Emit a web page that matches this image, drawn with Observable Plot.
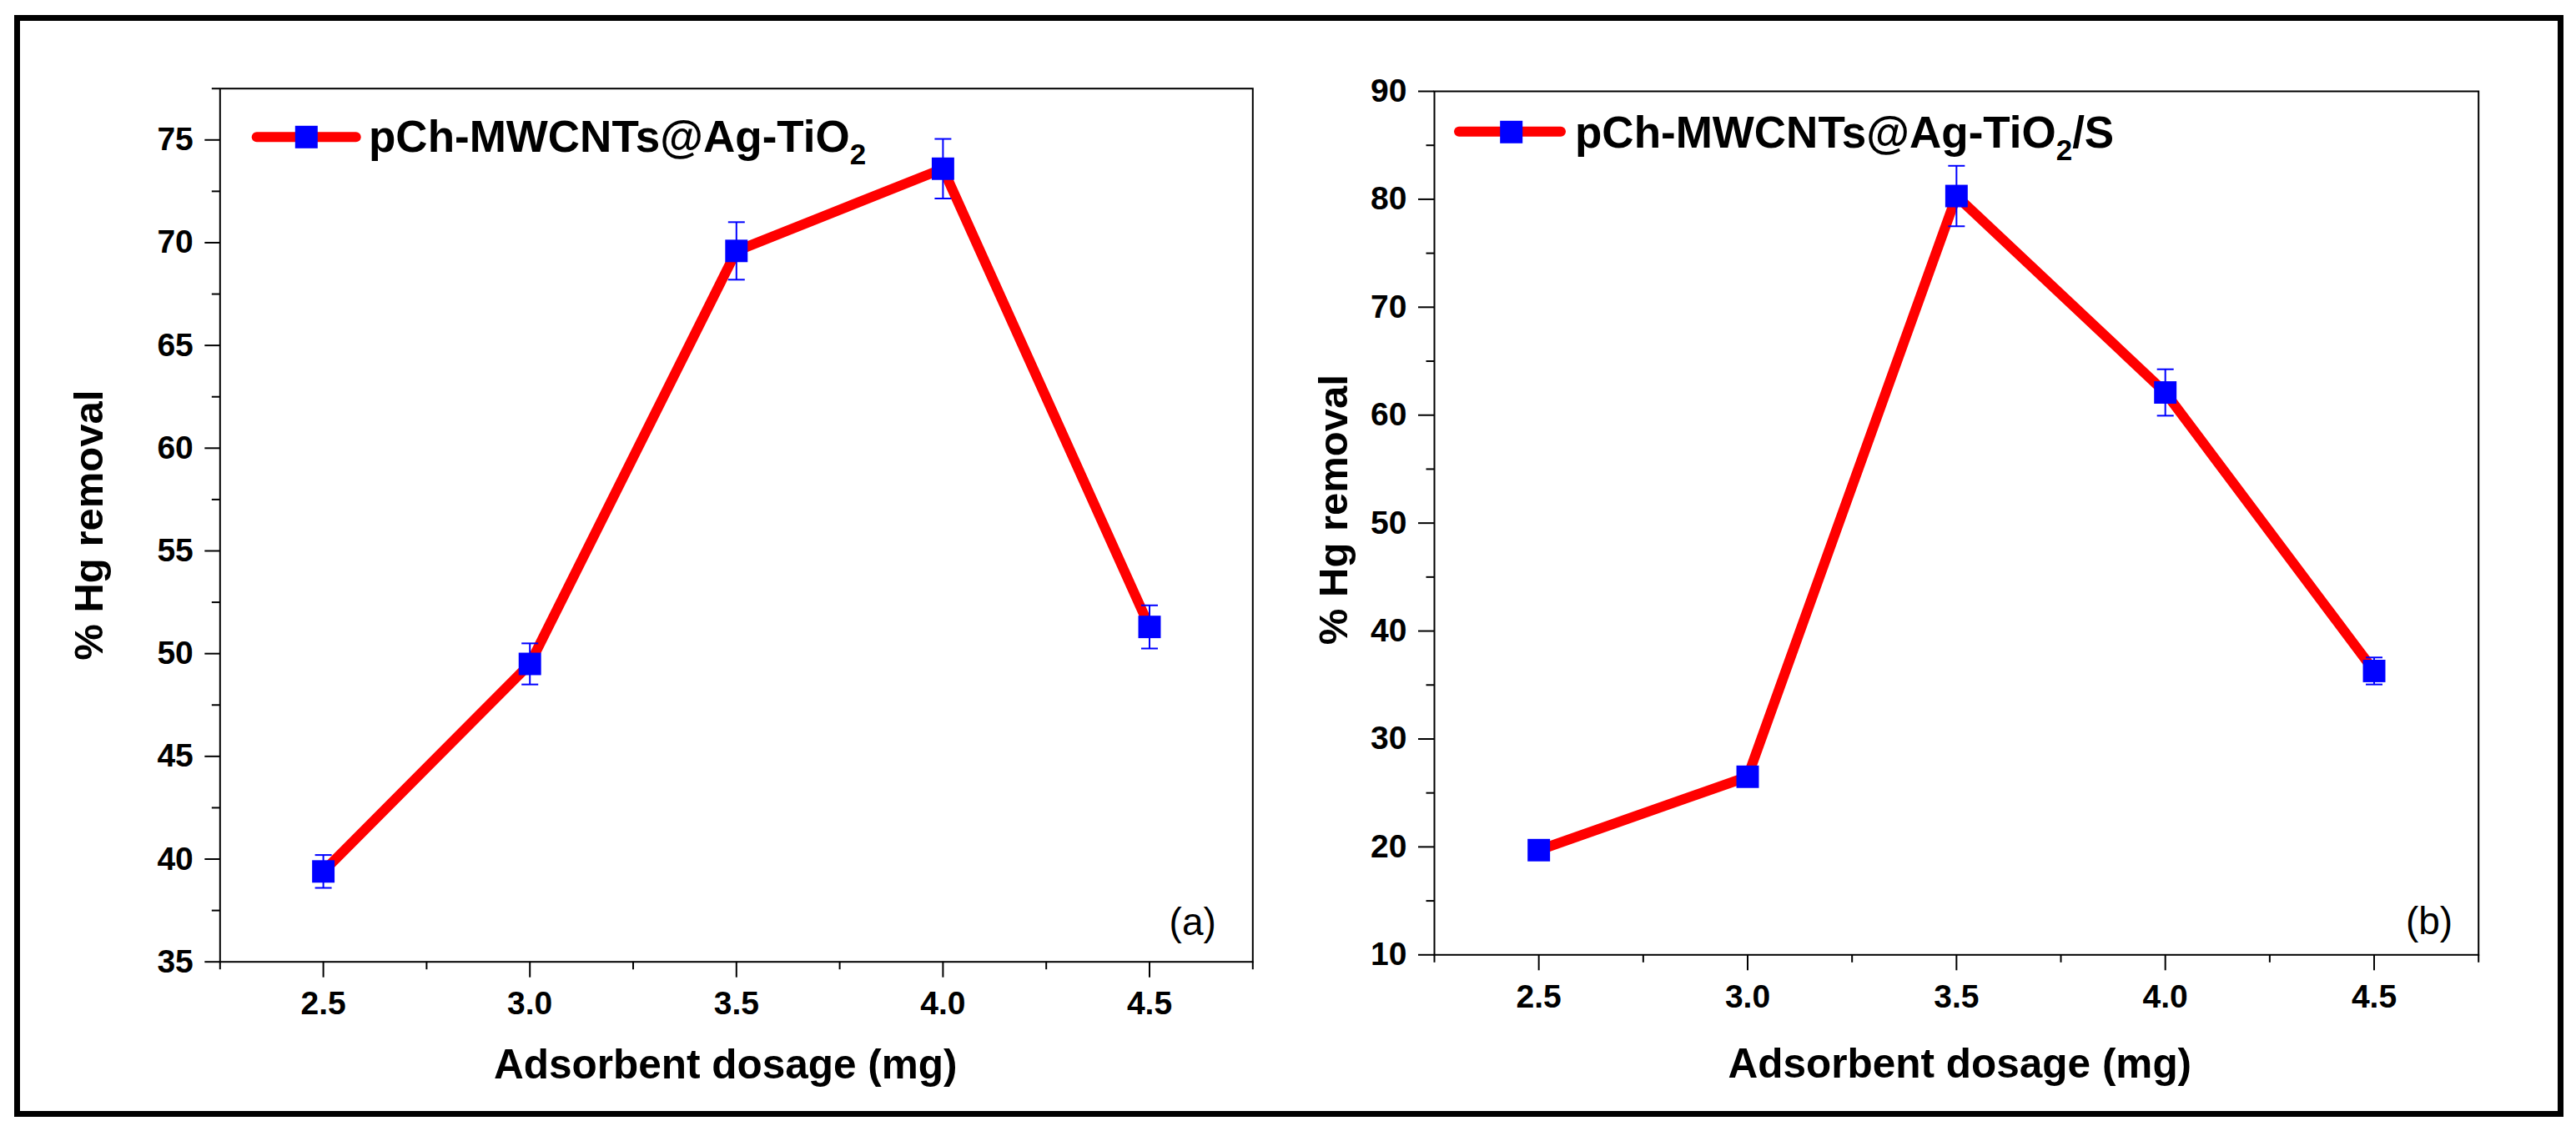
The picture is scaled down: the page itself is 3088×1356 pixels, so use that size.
<!DOCTYPE html>
<html>
<head>
<meta charset="utf-8">
<script src="https://cdn.jsdelivr.net/npm/d3@7"></script>
<script src="https://cdn.jsdelivr.net/npm/@observablehq/plot@0.6"></script>
<style>
  html, body { margin: 0; padding: 0; background: #fff; }
  #page { position: relative; width: 3088px; height: 1356px; overflow: hidden; background: #fff; }
  .panel { position: absolute; top: 0; }
  #border { position: absolute; left: 17px; top: 18px; width: 3056px; height: 1321px; box-sizing: border-box; border: 7px solid #000; pointer-events: none; }
  #legend { position: absolute; left: 0; top: 0; pointer-events: none; }
</style>
</head>
<body>
<div id="page">
  <div id="left" class="panel" style="left:0px"></div>
  <div id="right" class="panel" style="left:1544px"></div>
  <div id="border"></div>
</div>
<script>
// ---- data ----
const dosage = [2.5, 3.0, 3.5, 4.0, 4.5];
const removalA = [39.4, 49.5, 69.6, 73.6, 51.3];
const errorA = [0.8, 1.0, 1.4, 1.45, 1.05];
const removalB = [19.7, 26.5, 80.3, 62.1, 36.3];
const errorB = [0.5, 0.5, 2.8, 2.15, 1.25];

const xTicks = [2.5, 3.0, 3.5, 4.0, 4.5];
const xMinorTicks = [2.25, 2.75, 3.25, 3.75, 4.25, 4.75];
const yTicksA = [35, 40, 45, 50, 55, 60, 65, 70, 75];
const yMinorA = [37.5, 42.5, 47.5, 52.5, 57.5, 62.5, 67.5, 72.5, 77.5];
const yTicksB = [10, 20, 30, 40, 50, 60, 70, 80, 90];
const yMinorB = [15, 25, 35, 45, 55, 65, 75, 85];

const seriesA = "pCh-MWCNTs@Ag-TiO";
const seriesB = "pCh-MWCNTs@Ag-TiO";
const xTitle = "Adsorbent dosage (mg)";
const yTitle = "% Hg removal";

const RED = "#ff0000";
const BLUE = "#0000ff";
const FONT = "'Liberation Sans', Arial, Helvetica, sans-serif";

const capSymbol = { draw(ctx) { ctx.moveTo(-10, 0); ctx.lineTo(10, 0); } };

function panel(cfg) {
  const data = dosage.map((d, i) => ({ x: d, y: cfg.values[i], e: cfg.errors[i] }));
  return Plot.plot({
    width: 1544,
    height: 1356,
    marginLeft: cfg.ml, marginRight: cfg.mr, marginTop: cfg.mt, marginBottom: cfg.mb,
    style: { fontFamily: FONT, background: "transparent", overflow: "visible", color: "#000" },
    x: { domain: [2.25, 4.75] },
    y: { domain: cfg.yDomain },
    marks: [
      Plot.axisY({ ticks: cfg.yTicks, tickSize: cfg.yTick, tickPadding: 14, fontSize: 39, fontWeight: "bold", strokeWidth: 2, label: null, tickFormat: d => String(d) }),
      Plot.axisY({ ticks: cfg.yMinor, tickSize: 9.5, fill: "none", strokeWidth: 2, label: null }),
      Plot.axisX({ ticks: xTicks, tickSize: 19, tickPadding: 16, fontSize: 39, fontWeight: "bold", strokeWidth: 2, label: null, tickFormat: d => d.toFixed(1) }),
      Plot.axisX({ ticks: xMinorTicks, tickSize: 9.5, fill: "none", strokeWidth: 2, label: null }),
      Plot.frame({ stroke: "#000", strokeWidth: 2 }),
      Plot.line(data, { x: "x", y: "y", stroke: RED, strokeWidth: 12, strokeLinejoin: "round" }),
      Plot.link(data, { x1: "x", x2: "x", y1: d => d.y - d.e, y2: d => d.y + d.e, stroke: BLUE, strokeWidth: 2 }),
      Plot.dot(data, { x: "x", y: d => d.y + d.e, symbol: capSymbol, r: 10, fill: "none", stroke: BLUE, strokeWidth: 2 }),
      Plot.dot(data, { x: "x", y: d => d.y - d.e, symbol: capSymbol, r: 10, fill: "none", stroke: BLUE, strokeWidth: 2 }),
      Plot.dot(data, { x: "x", y: "y", symbol: "square", r: 15.2, fill: BLUE, stroke: "none" }),
      Plot.text([cfg.tag], { frameAnchor: "bottom-right", textAnchor: "end", lineAnchor: "bottom", dx: cfg.tagDx, dy: cfg.tagDy, fontSize: 46, fill: "#000" }),
      Plot.text([xTitle], { frameAnchor: "bottom", textAnchor: "middle", lineAnchor: "bottom", dx: cfg.xtDx, dy: cfg.xtDy, fontSize: 49.5, fontWeight: "bold", fill: "#000" }),
      Plot.text([yTitle], { frameAnchor: "left", textAnchor: "middle", lineAnchor: "bottom", rotate: -90, dx: cfg.ytDx, dy: cfg.ytDy, fontSize: 49, fontWeight: "bold", fill: "#000" })
    ]
  });
}

document.getElementById("left").appendChild(panel({
  values: removalA, errors: errorA, yDomain: [35, 77.5], yTicks: yTicksA, yMinor: yMinorA, yTick: 18,
  ml: 263.3, mr: 42.7, mt: 105.7, mb: 203.3,
  tag: "(a)", tagDx: -44, tagDy: -32,
  xtDx: -13, xtDy: 139.5, ytDx: -141, ytDy: 0
}));
document.getElementById("right").appendChild(panel({
  values: removalB, errors: errorB, yDomain: [10, 90], yTicks: yTicksB, yMinor: yMinorB, yTick: 19,
  ml: 175, mr: 117.3, mt: 109, mb: 211.7,
  tag: "(b)", tagDx: -31, tagDy: -25,
  xtDx: 4, xtDy: 147.5, ytDx: -104.5, ytDy: -16
}));

// ---- legends (drawn as an overlay) ----
const legend = d3.create("svg")
  .attr("id", "legend")
  .attr("width", 3088).attr("height", 1356)
  .attr("font-family", FONT);

function legendEntry(g, lx1, lx2, ly, mx, my, tx, ty, main, tail) {
  g.append("line").attr("x1", lx1).attr("x2", lx2).attr("y1", ly).attr("y2", ly)
    .attr("stroke", RED).attr("stroke-width", 12).attr("stroke-linecap", "round");
  g.append("rect").attr("x", mx - 13.5).attr("y", my - 13.5).attr("width", 27).attr("height", 27).attr("fill", BLUE);
  const t = g.append("text").attr("x", tx).attr("y", ty).attr("font-size", 53).attr("font-weight", "bold").attr("fill", "#000");
  t.append("tspan").text(main);
  t.append("tspan").attr("font-size", 35).attr("dy", 15).text("2");
  if (tail) t.append("tspan").attr("dy", -15).text(tail);
}
legendEntry(legend, 307.7, 426.7, 164.2, 367.3, 164.3, 442, 181.5, seriesA, null);
legendEntry(legend, 1749, 1871, 157.7, 1811.7, 158.3, 1888, 176.5, seriesB, "/S");

document.getElementById("page").appendChild(legend.node());
</script>
</body>
</html>
